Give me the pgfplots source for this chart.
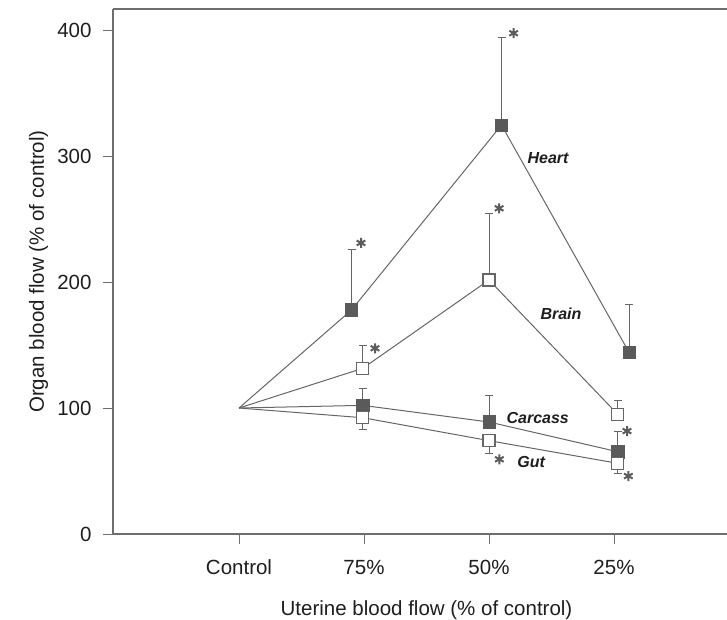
\documentclass[border=0pt]{standalone}
\usepackage{pgfplots}
\pgfplotsset{compat=1.18}
\usepackage{fontspec}
\setmainfont{Liberation Sans}
\definecolor{ln}{HTML}{666666}
\definecolor{fillc}{HTML}{5A5A5A}
\definecolor{ax}{HTML}{6E6E6E}
\definecolor{ast}{HTML}{5C5C5C}
\definecolor{txt}{HTML}{1E1E1E}

\pgfplotstableread{
x y e
0.90 177.8 47.8
2.10 324.6 69.3
3.12 144.2 38.3
}\heart
\pgfplotstableread{
x y e
0.99 131.5 18.0
2.00 201.6 52.9
3.03 95.0 10.6
}\brain
\pgfplotstableread{
x y e
0.99 102.1 13.5
2.00 88.9 20.9
3.03 65.3 15.9
}\carcass
\pgfplotstableread{
x y e
0.99 92.3 9.0
2.00 74.1 10.4
3.03 56.1 7.9
}\gut

\begin{document}
\begin{tikzpicture}
\useasboundingbox (0,0) rectangle (727pt,619pt);
\begin{axis}[
  at={(113pt,85pt)}, anchor=south west,
  scale only axis, width=614pt, height=525pt,
  xmin=-1.008, xmax=3.904, ymin=0, ymax=416.7,
  axis x line*=bottom, axis y line*=left,
  axis line style={ax, line width=2pt, -},
  xtick={0,1,2,3}, xticklabels={Control,75\%,50\%,25\%},
  ytick={0,100,200,300,400},
  tick style={ax, line width=1pt},
  tick align=outside, major tick length=10pt,
  tick label style={font=\fontsize{20.5}{24}\selectfont, text=txt},
  /pgf/number format/assume math mode=true,
  xticklabel style={anchor=base, yshift=-30pt},
  yticklabel style={anchor=east, xshift=-8pt},
  xlabel={Uterine blood flow (\% of control)},
  ylabel={Organ blood flow (\% of control)},
  label style={font=\fontsize{20.5}{24}\selectfont, text=txt},
  xlabel style={at={(axis description cs:0.5106,-0.1543)}, anchor=base},
  ylabel style={at={(axis description cs:-0.1124,0.5)}, anchor=base},
  clip=false,
]
\draw[ax, line width=2pt] (rel axis cs:0,1) -- (rel axis cs:1,1);
% lines
\addplot[ln, line width=1pt] coordinates {(0,100) (0.90,177.8) (2.10,324.6) (3.12,144.2)};
\addplot[ln, line width=1pt] coordinates {(0,100) (0.99,131.5) (2.00,201.6) (3.03,95.0)};
\addplot[ln, line width=1pt] coordinates {(0,100) (0.99,102.1) (2.00,88.9) (3.03,65.3)};
\addplot[ln, line width=1pt] coordinates {(0,100) (0.99,92.3) (2.00,74.1) (3.03,56.1)};
% markers with error bars
\addplot[only marks, mark=square*, mark size=6.2pt, mark options={fill=fillc, draw=fillc, line width=0.6pt},
  error bars/.cd, y dir=plus, y explicit, error bar style={ln, line width=1pt},
  error mark options={rotate=90, ln, line width=1pt, mark size=4pt}]
  table[x=x, y=y, y error=e] {\heart};
\addplot[only marks, mark=square*, mark size=6pt, mark options={fill=white, draw=ln, line width=1.2pt},
  error bars/.cd, y dir=plus, y explicit, error bar style={ln, line width=1pt},
  error mark options={rotate=90, ln, line width=1pt, mark size=4pt}]
  table[x=x, y=y, y error=e] {\brain};
\addplot[only marks, mark=square*, mark size=6.2pt, mark options={fill=fillc, draw=fillc, line width=0.6pt},
  error bars/.cd, y dir=plus, y explicit, error bar style={ln, line width=1pt},
  error mark options={rotate=90, ln, line width=1pt, mark size=4pt}]
  table[x=x, y=y, y error=e] {\carcass};
\addplot[only marks, mark=square*, mark size=6pt, mark options={fill=white, draw=ln, line width=1.2pt},
  error bars/.cd, y dir=minus, y explicit, error bar style={ln, line width=1pt},
  error mark options={rotate=90, ln, line width=1pt, mark size=4pt}]
  table[x=x, y=y, y error=e] {\gut};
% asterisks
\addplot[only marks, mark=asterisk, mark size=5pt, ast, line width=2pt]
  coordinates {(0.976,231) (2.197,397.5) (1.088,147.4) (2.081,258.5) (2.083,59.3) (3.104,81.7) (3.115,46.0)};
% labels
\node[anchor=base, font=\fontsize{16}{20}\selectfont\bfseries\itshape, text=txt] at (axis cs:2.472,293.7) {Heart};
\node[anchor=base, font=\fontsize{16}{20}\selectfont\bfseries\itshape, text=txt] at (axis cs:2.576,170.6) {Brain};
\node[anchor=base, font=\fontsize{16}{20}\selectfont\bfseries\itshape, text=txt] at (axis cs:2.39,87.9) {Carcass};
\node[anchor=base, font=\fontsize{16}{20}\selectfont\bfseries\itshape, text=txt] at (axis cs:2.338,52.9) {Gut};
\end{axis}
\end{tikzpicture}
\end{document}
